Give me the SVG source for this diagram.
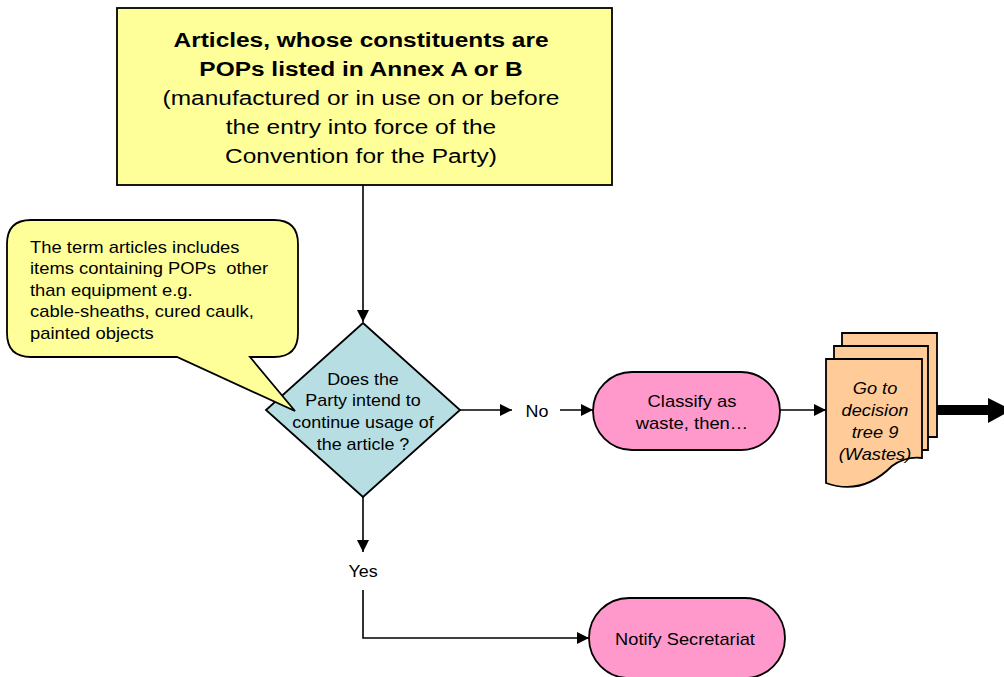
<svg xmlns="http://www.w3.org/2000/svg" width="1004" height="677" viewBox="0 0 1004 677">
  <defs>
    <marker id="arrow" markerUnits="userSpaceOnUse" markerWidth="12" markerHeight="12" refX="12" refY="6" orient="auto">
      <path d="M0,0 L12,6 L0,12 z" fill="#000"/>
    </marker>
    <style>
      text { font-family: "Liberation Sans", Arial, sans-serif; fill: #000; }
      .c { text-anchor: middle; }
      .shape { stroke: #000; stroke-width: 1.8; }
      .yellow { fill: #FFFF99; }
      .blue { fill: #B7DEE3; }
      .pink { fill: #FF99CC; }
      .peach { fill: #FFCC99; }
      .conn { fill: none; stroke: #000; stroke-width: 1.6; }
      .big { font-size: 21px; }
      .mid { font-size: 16px; }
    </style>
  </defs>
  <rect width="1004" height="677" fill="#fff"/>

  <!-- connectors -->
  <g id="connectors">
    <path class="conn" d="M363,185 V322" marker-end="url(#arrow)"/>
    <path class="conn" d="M460,410 H512" marker-end="url(#arrow)"/>
    <path class="conn" d="M560,410 H593" marker-end="url(#arrow)"/>
    <path class="conn" d="M780,410 H826" marker-end="url(#arrow)"/>
    <path class="conn" d="M363,497 V552" marker-end="url(#arrow)"/>
    <path class="conn" d="M363,590 V638 H589" marker-end="url(#arrow)"/>
    <!-- heavy exit arrow -->
    <rect x="937" y="405" width="54" height="10" fill="#000"/>
    <path d="M988,398 L1012,410 L988,423 z" fill="#000"/>
    <g class="mid" transform="translate(537 0) scale(1.12 1)">
      <text class="c" x="0" y="417">No</text>
    </g>
    <g class="mid" transform="translate(363 0) scale(1.12 1)">
      <text class="c" x="0" y="577">Yes</text>
    </g>
  </g>

  <!-- scope box -->
  <g id="articles">
    <rect class="shape yellow" x="117" y="8" width="495" height="177"/>
    <g class="big" transform="translate(361 0) scale(1.165 1)">
      <text class="c" x="0" y="47" font-weight="bold">Articles, whose constituents are</text>
      <text class="c" x="0" y="76" font-weight="bold">POPs listed in Annex A or B</text>
      <text class="c" x="0" y="105">(manufactured or in use on or before</text>
      <text class="c" x="0" y="134">the entry into force of the</text>
      <text class="c" x="0" y="163">Convention for the Party)</text>
    </g>
  </g>

  <!-- decision -->
  <g id="decision">
    <path class="shape blue" d="M363,323 L460,410 L363,497 L266,410 z"/>
    <g class="mid" transform="translate(363 0) scale(1.12 1)">
      <text class="c" x="0" y="385">Does the</text>
      <text class="c" x="0" y="406">Party intend to</text>
      <text class="c" x="0" y="428">continue usage of</text>
      <text class="c" x="0" y="450">the article ?</text>
    </g>
  </g>

  <!-- callout note -->
  <g id="note">
    <path class="shape yellow" d="M31,220 H274 Q298,220 298,244 V333 Q298,357 274,357 H250 L295,411 L177,357 H31 Q7,357 7,333 V244 Q7,220 31,220 z"/>
    <g class="mid" transform="translate(30 0) scale(1.15 1)">
      <text x="0" y="253">The term articles includes</text>
      <text x="0" y="274">items containing POPs&#160; other</text>
      <text x="0" y="296">than equipment e.g.</text>
      <text x="0" y="317">cable-sheaths, cured caulk,</text>
      <text x="0" y="339">painted objects</text>
    </g>
  </g>

  <!-- waste classification -->
  <g id="classify">
    <rect class="shape pink" x="593" y="372" width="187" height="78" rx="39" ry="39"/>
    <g class="mid" transform="translate(692 0) scale(1.15 1)">
      <text class="c" x="0" y="407">Classify as</text>
      <text class="c" x="0" y="429">waste, then…</text>
    </g>
  </g>

  <!-- multi-document: decision tree 9 -->
  <g id="tree9">
    <path class="shape peach" d="M842,333 H937 V437 H842 z"/>
    <path class="shape peach" d="M834,346 H928 V450 H834 z"/>
    <path class="shape peach" d="M826,359 H922 V458 Q906,456 892,466 Q862,496 826,483 z"/>
    <g class="mid" font-style="italic" transform="translate(875 0) scale(1.14 1)">
      <text class="c" x="0" y="394">Go to</text>
      <text class="c" x="0" y="416">decision</text>
      <text class="c" x="0" y="438">tree 9</text>
      <text class="c" x="0" y="460">(Wastes)</text>
    </g>
  </g>

  <!-- notification -->
  <g id="notify">
    <rect class="shape pink" x="589" y="598" width="196" height="80" rx="40" ry="40"/>
    <g class="mid" transform="translate(685 0) scale(1.14 1)">
      <text class="c" x="0" y="645">Notify Secretariat</text>
    </g>
  </g>
</svg>
